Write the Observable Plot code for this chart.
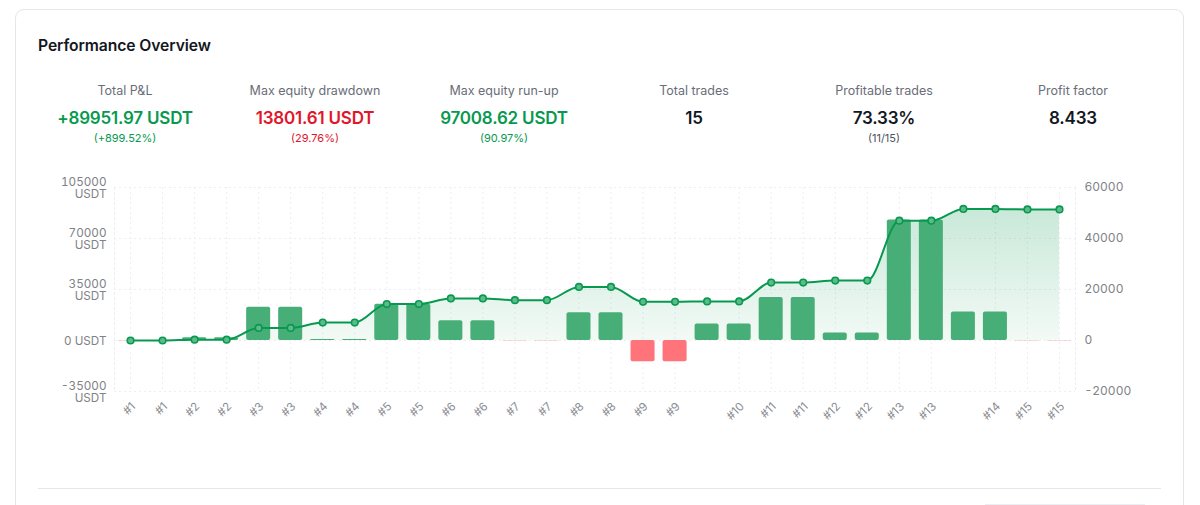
<!DOCTYPE html>
<html><head><meta charset="utf-8">
<script src="https://cdn.jsdelivr.net/npm/d3@7"></script>
<script src="https://cdn.jsdelivr.net/npm/@observablehq/plot@0.6"></script>
<style>
html,body{margin:0;padding:0;background:#fff;overflow:hidden}
body{width:1200px;height:505px;position:relative;font-family:Inter,"Noto Sans",sans-serif;color:#131722}
#card{position:absolute;left:14.5px;top:8.5px;width:1169px;height:600px;border:1px solid #e4e6ee;border-radius:9px;box-sizing:border-box}
#title{position:absolute;left:38px;top:36px;font-size:15.7px;font-weight:600;line-height:20px;letter-spacing:-.1px}
.stat{position:absolute;top:82px;width:190px;text-align:center;transform:translateX(-50%)}
.lab{font-size:12.5px;line-height:18px;color:#6a6d78}
.val{font-size:17px;font-weight:600;line-height:24px;margin-top:6px;letter-spacing:-.2px}
.sub{font-size:11px;line-height:14px;margin-top:1px}
#hr{position:absolute;left:38px;top:488px;width:1123px;height:1px;background:#e4e6ee}
#btn{position:absolute;left:985px;top:504px;width:160px;height:10px;border-top:1px solid #eceef3}
#chart{position:absolute;left:0;top:170px}
</style></head><body>
<div id="card"></div>
<div id="title">Performance Overview</div>
<div id="stats"></div>
<div id="hr"></div><div id="btn"></div>
<div id="chart"></div>
<script>
const statLabels=["Total P&L","Max equity drawdown","Max equity run-up","Total trades","Profitable trades","Profit factor"];
const statValues=["+89951.97 USDT","13801.61 USDT","97008.62 USDT","15","73.33%","8.433"];
const statSubs=["(+899.52%)","(29.76%)","(90.97%)","","(11/15)",""];
const statColors=["#089950","#e0162b","#089950","#131722","#131722","#131722"];
const statCenters=[125,315,504,694,884,1073];

const tickLabels=["#1","#1","#2","#2","#3","#3","#4","#4","#5","#5","#6","#6","#7","#7","#8","#8","#9","#9","","#10","#11","#11","#12","#12","#13","#13","","#14","#15","#15"];
const equity=[0,0,600,600,8640,8640,12270,12270,25000,25000,28860,28860,27700,27700,36800,36800,26560,26560,26800,26800,39770,39770,41100,41100,82200,82200,90300,90300,89952,89952];
const pnl=[-100,-100,1100,1100,13000,13000,400,400,14200,14200,7700,7700,-120,-120,10900,10900,-8300,-8300,6500,6500,16900,16900,2900,2900,47300,47300,11200,11200,-100,-100];
const leftTicks=[-35000,0,35000,70000,105000];
const rightTicks=[-20000,0,20000,40000,60000];
const ratio=105000/60000;

const stats=document.getElementById("stats");
statLabels.forEach((l,i)=>{
  const d=document.createElement("div");d.className="stat";d.style.left=statCenters[i]+"px";
  const a=document.createElement("div");a.className="lab";a.textContent=l;
  const b=document.createElement("div");b.className="val";b.textContent=statValues[i];b.style.color=statColors[i];
  const c=document.createElement("div");c.className="sub";c.textContent=statSubs[i];c.style.color=statColors[i]==="#131722"?"#50535e":statColors[i];
  d.append(a,b,c);stats.append(d);
});

const rows=tickLabels.map((t,i)=>({i,t,equity:equity[i],pnl:pnl[i]}));
const labelled=rows.filter(d=>d.t).map(d=>d.i);
const grid="#eceef3";
const defs=()=>{
  const s=d3.create("svg:defs");
  const g=s.append("linearGradient").attr("id","eqfill").attr("x1",0).attr("y1",0).attr("x2",0).attr("y2",1);
  g.append("stop").attr("offset","0%").attr("stop-color","#089950").attr("stop-opacity",.22);
  g.append("stop").attr("offset","100%").attr("stop-color","#089950").attr("stop-opacity",.05);
  return s.node();
};
const plot=Plot.plot({
  width:1200,height:265,marginLeft:114,marginRight:125,marginTop:17,marginBottom:44,
  style:{fontFamily:"Inter,'Noto Sans',sans-serif",background:"transparent",overflow:"visible"},
  x:{type:"band",domain:rows.map(d=>d.i),paddingInner:.25,paddingOuter:.125,round:false,label:null},
  y:{domain:[-35000,105000],label:null},
  marks:[
    defs,
    Plot.gridY(leftTicks,{stroke:grid,strokeOpacity:1,strokeDasharray:"2,3"}),
    Plot.gridX(labelled,{stroke:grid,strokeOpacity:1,strokeDasharray:"2,3"}),
    Plot.frame({anchor:"left",stroke:grid,strokeDasharray:"2,3"}),
    Plot.frame({anchor:"right",stroke:grid,strokeDasharray:"2,3"}),
    Plot.areaY(rows,{x:"i",y1:()=>0,y2:"equity",curve:"monotone-x",fill:"url(#eqfill)"}),
    Plot.barY(rows,{x:"i",y1:()=>0,y2:d=>d.pnl*ratio,fill:d=>d.pnl<0?"#ff737b":"#48ae77",r:2}),
    Plot.line(rows,{x:"i",y:"equity",curve:"monotone-x",stroke:"#089950",strokeWidth:2}),
    Plot.dot(rows,{x:"i",y:"equity",r:3.3,stroke:"#089950",strokeWidth:1.6,fill:"#5dbb8a"}),
    Plot.axisY(leftTicks,{anchor:"left",label:null,tickSize:0,tickPadding:8,fontSize:11.7,fill:"#808288",lineHeight:1,dy:1,
      tickFormat:d=>d===0?"0 USDT":d+"\nUSDT"}),
    Plot.axisY(rightTicks.map(d=>d*ratio),{anchor:"right",label:null,tickSize:0,tickPadding:9,fontSize:12,fill:"#808288",
      tickFormat:d=>String(Math.round(d/ratio))}),
    Plot.axisX(labelled,{anchor:"bottom",label:null,tickSize:0,tickPadding:13,tickRotate:-45,fontSize:11.5,fill:"#8a8c92",dx:3,
      tickFormat:i=>tickLabels[i]})
  ]
});
document.getElementById("chart").append(plot);
</script>
</body></html>
